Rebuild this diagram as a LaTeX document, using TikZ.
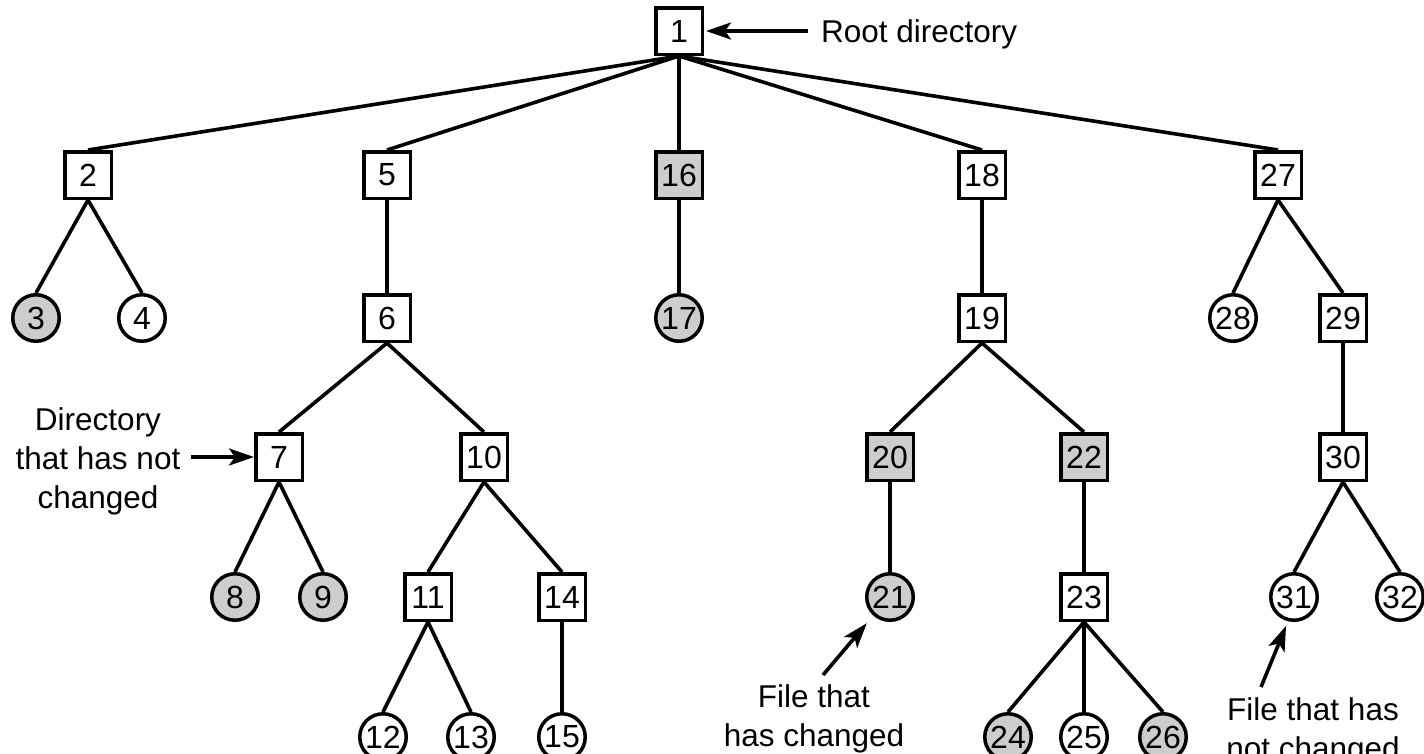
\documentclass[tikz,border=0pt]{standalone}
\usepackage{fontspec}
\setmainfont{Liberation Sans}
\usetikzlibrary{arrows.meta}
\definecolor{chg}{RGB}{205,205,205}
\begin{document}
\begin{tikzpicture}[x=1pt,y=-1pt,
  dirbox/.style={draw,line width=3.5pt,rectangle,minimum size=46.5pt,inner sep=0pt,fill=white,font=\fontsize{32}{36}\selectfont},
  filec/.style={draw,line width=3.5pt,circle,minimum size=46.5pt,inner sep=0pt,fill=white,font=\fontsize{32}{36}\selectfont},
  chgd/.style={fill=chg},
  edge/.style={line width=3.6pt},
  arr/.style={line width=3.6pt,-{Stealth[length=25pt,width=17pt,inset=6pt]}},
  lbl/.style={font=\fontsize{31.5}{39}\selectfont,align=center,inner sep=0pt}]
\useasboundingbox (0,0) rectangle (1424,753);
% level 1
\node[dirbox] (n1) at (679,31) {1};
% level 2
\node[dirbox] (n2) at (88,175) {2};
\node[dirbox] (n5) at (387,175) {5};
\node[dirbox,chgd] (n16) at (679,175) {16};
\node[dirbox] (n18) at (982,175) {18};
\node[dirbox] (n27) at (1278,175) {27};
% level 3
\node[filec,chgd] (n3) at (36,318) {3};
\node[filec] (n4) at (142,318) {4};
\node[dirbox] (n6) at (387,318) {6};
\node[filec,chgd] (n17) at (679,318) {17};
\node[dirbox] (n19) at (982,318) {19};
\node[filec] (n28) at (1233,318) {28};
\node[dirbox] (n29) at (1343,318) {29};
% level 4
\node[dirbox] (n7) at (279,457) {7};
\node[dirbox] (n10) at (484,457) {10};
\node[dirbox,chgd] (n20) at (890,457) {20};
\node[dirbox,chgd] (n22) at (1084,457) {22};
\node[dirbox] (n30) at (1343,457) {30};
% level 5
\node[filec,chgd] (n8) at (235,597) {8};
\node[filec,chgd] (n9) at (323,597) {9};
\node[dirbox] (n11) at (428,597) {11};
\node[dirbox] (n14) at (562,597) {14};
\node[filec,chgd] (n21) at (890,597) {21};
\node[dirbox] (n23) at (1084,597) {23};
\node[filec] (n31) at (1294,597) {31};
\node[filec] (n32) at (1400,597) {32};
% level 6
\node[filec] (n12) at (383,737) {12};
\node[filec] (n13) at (471,737) {13};
\node[filec] (n15) at (562,737) {15};
\node[filec,chgd] (n24) at (1008,737) {24};
\node[filec] (n25) at (1084,737) {25};
\node[filec,chgd] (n26) at (1163,737) {26};
% edges
\foreach \p/\c in {n1/n2,n1/n5,n1/n16,n1/n18,n1/n27,
                   n2/n3,n2/n4,n5/n6,n6/n7,n6/n10,n7/n8,n7/n9,
                   n10/n11,n10/n14,n11/n12,n11/n13,n14/n15,
                   n16/n17,n18/n19,n19/n20,n19/n22,n20/n21,n22/n23,
                   n23/n24,n23/n25,n23/n26,n27/n28,n27/n29,n29/n30,
                   n30/n31,n30/n32}
  \draw[edge] (\p.south) -- (\c.north);
% labels
\node[lbl,anchor=base west] (lroot) at (821,42) {Root directory};
\node[lbl] (ldir) at (98,461) {Directory\\that has not\\changed};
\node[lbl] (lchg) at (814,719) {File that\\has changed};
\node[lbl] (lnot) at (1313,732) {File that has\\not changed};
% arrows
\coordinate (aroot) at (808,31);
\coordinate (adir) at (191,457);
\coordinate (achg) at (823,675);
\coordinate (anot) at (1261,687);
\draw[arr,shorten >=2pt] (aroot) -- (n1.east);
\draw[arr] (adir) -- (n7.west);
\draw[arr,shorten >=10pt] (achg) -- (n21.228);
\draw[arr,shorten >=5pt] (anot) -- (n31.256);
\end{tikzpicture}
\end{document}
